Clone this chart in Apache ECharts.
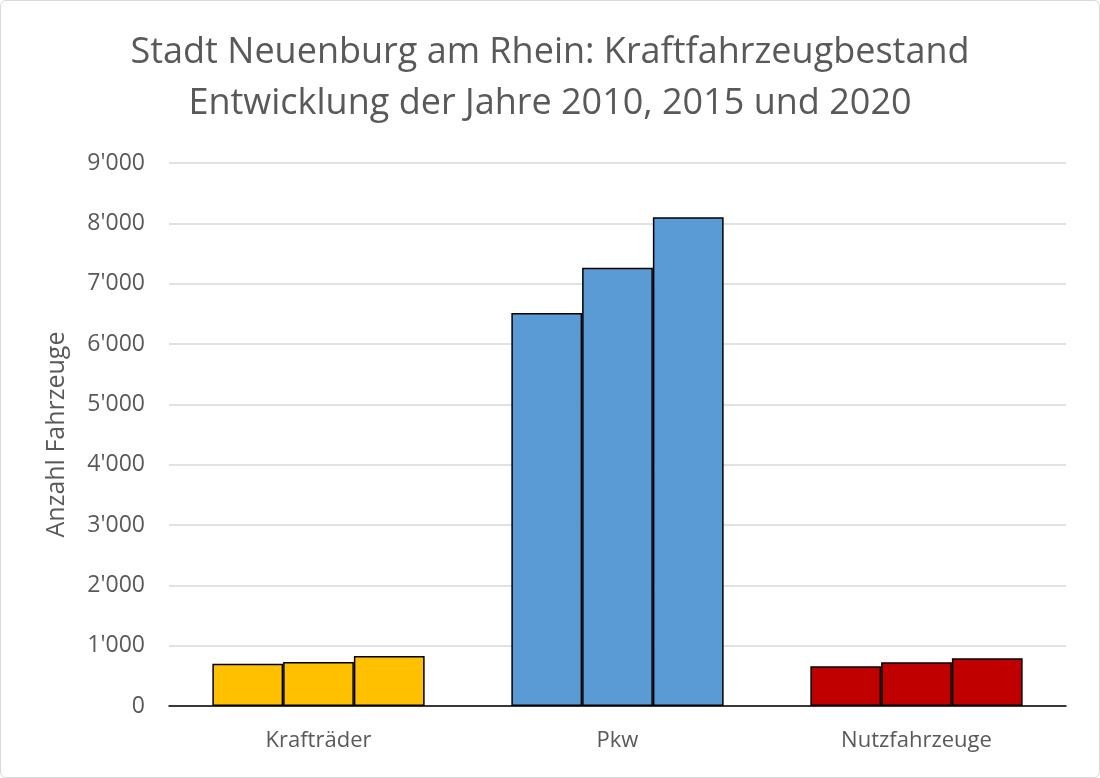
<!DOCTYPE html>
<html>
<head>
<meta charset="utf-8">
<script src="https://cdn.jsdelivr.net/npm/echarts@6/dist/echarts.min.js"></script>
<style>
  html, body { margin: 0; padding: 0; background: #fff; }
  #chart { width: 1100px; height: 778px; box-sizing: border-box; border: 1px solid #d9d9d9; border-radius: 6px; }
</style>
</head>
<body>
<div id="chart"></div>
<script>
const categories = ["Krafträder", "Pkw", "Nutzfahrzeuge"];
const years = ["2010", "2015", "2020"];
const values2010 = [700, 6515, 660];
const values2015 = [730, 7265, 726];
const values2020 = [830, 8100, 792];
const categoryColors = ["#ffc000", "#5b9bd5", "#c00000"];

const textColor = "#595959";
const fontFamily = "'Open Sans', sans-serif";

const makeSeries = (name, values) => ({
  name: name,
  type: "bar",
  barGap: "0%",
  barCategoryGap: "29%",
  data: values.map((v, i) => ({
    value: v,
    itemStyle: { color: categoryColors[i] },
  })),
  itemStyle: {
    borderColor: "#000",
    borderWidth: 1.5,
  },
});

const chart = echarts.init(document.getElementById("chart"));

const option = {
  animation: false,
  title: {
    text: "Stadt Neuenburg am Rhein: Kraftfahrzeugbestand\nEntwicklung der Jahre 2010, 2015 und 2020",
    left: "center",
    top: 21,
    textStyle: {
      color: textColor,
      fontFamily: fontFamily,
      fontSize: 36,
      fontWeight: "normal",
      lineHeight: 51,
    },
  },
  grid: {
    left: 168,
    right: 33,
    top: 162,
    bottom: 71,
  },
  xAxis: {
    type: "category",
    data: categories,
    axisLine: { lineStyle: { color: "#000", width: 1.5 } },
    axisTick: { show: false },
    axisLabel: {
      color: textColor,
      fontFamily: fontFamily,
      fontSize: 22,
      margin: 24,
    },
  },
  yAxis: {
    type: "value",
    min: 0,
    max: 9000,
    interval: 1000,
    name: "Anzahl Fahrzeuge",
    nameLocation: "middle",
    nameGap: 100,
    nameRotate: 90,
    nameTextStyle: {
      color: textColor,
      fontFamily: fontFamily,
      fontSize: 25,
    },
    axisLine: { show: false },
    axisTick: { show: false },
    splitLine: { lineStyle: { color: "#d9d9d9", width: 1.5 } },
    axisLabel: {
      color: textColor,
      fontFamily: fontFamily,
      fontSize: 23,
      margin: 24,
      formatter: (v) => {
        if (v === 0) return "0";
        const s = String(v);
        return s.slice(0, s.length - 3) + "'" + s.slice(-3);
      },
    },
  },
  series: [
    makeSeries(years[0], values2010),
    makeSeries(years[1], values2015),
    makeSeries(years[2], values2020),
  ],
};

chart.setOption(option);
</script>
</body>
</html>
